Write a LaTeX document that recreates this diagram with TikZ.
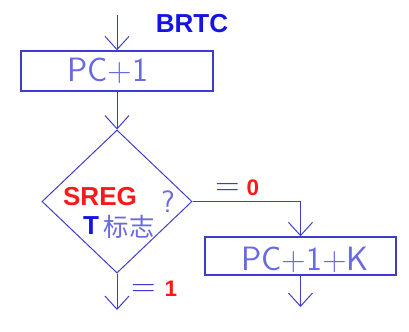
\documentclass[tikz,border=0pt]{standalone}
\usepackage{fontspec}
\newfontfamily\arialfont{Liberation Sans}
\newfontfamily\cjkfont{Noto Sans CJK SC}
\usetikzlibrary{shapes.geometric,arrows.meta}
\definecolor{flowblue}{RGB}{60,60,205}
\definecolor{textblue}{RGB}{105,105,225}
\definecolor{labelblue}{RGB}{20,20,230}
\definecolor{labelred}{RGB}{250,25,25}

\begin{document}
\begin{tikzpicture}[x=0.025cm, y=-0.025cm,
    box/.style={rectangle, draw=flowblue, line width=1pt, minimum width=4.8cm,
        minimum height=1cm, inner sep=0pt},
    dec/.style={diamond, draw=flowblue, line width=0.7pt, minimum width=3.75cm,
        minimum height=3.575cm, inner sep=0pt},
    arr/.style={-{Straight Barb[length=0.33cm, width=0.6cm]}, line width=0.7pt, flowblue},
    cad/.style={font=\sffamily\fontsize{24}{24}\selectfont, text=textblue, inner sep=0pt},
    bold/.style={font=\arialfont\bfseries\fontsize{18.5}{18.5}\selectfont, inner sep=0pt},
    digit/.style={font=\arialfont\bfseries\fontsize{16}{16}\selectfont, text=labelred, inner sep=0pt}
]
    \useasboundingbox[fill=white] (0,0) rectangle (409,331);

    \coordinate (entry) at (117,15);
    \node[box] (pc1) at (117,71) {};
    \node[dec] (test) at (117,201.5) {};
    \node[box, minimum width=4.775cm, minimum height=0.95cm] (pck) at (300.5,256) {};
    \coordinate (out1) at (117,310);
    \coordinate (out2) at (300.5,307);

    \draw[arr] (entry) -- (pc1);
    \draw[arr] (pc1) -- (test);
    \draw[arr] (test.east) -| (pck.north);
    \draw[arr] (test.south) -- (out1);
    \draw[arr] (pck.south) -- (out2);

    % Texts
    \node[bold, text=labelblue] (brtc) at (192,24) {BRTC};
    \node[cad] (pc1txt) at (108,71) {PC+1};
    \node[cad] (pcktxt) at (305,260) {PC+1+K};
    \node[bold, text=labelred] (sreg) at (100,197) {SREG};
    \node[cad, font=\sffamily\fontsize{22}{22}\selectfont] (ask) at (168,202) {?};
    \node[bold, text=labelblue] (tflag) at (91,226) {T};
    \node[font=\cjkfont\fontsize{18}{18}\selectfont, text=textblue, inner sep=0pt] (flag) at (129,227) {标志};

    % Branch labels
    \node[cad, text=flowblue] (eq0) at (228,189) {=};
    \node[digit] (zero) at (253,188) {0};
    \node[cad, text=flowblue] (eq1) at (144,290) {=};
    \node[digit] (one) at (171,289) {1};
\end{tikzpicture}
\end{document}
